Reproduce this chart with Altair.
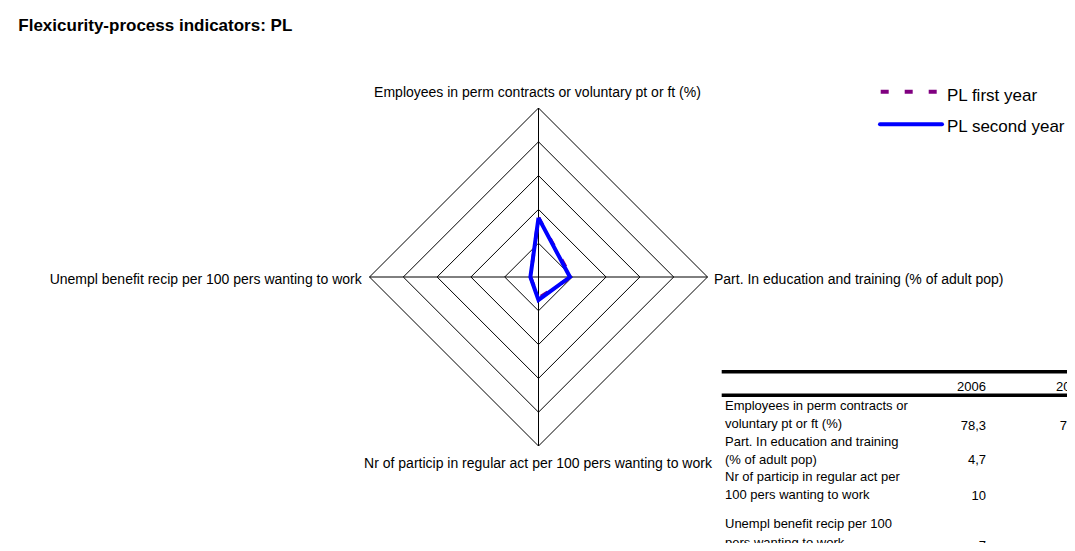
import altair as alt
import pandas as pd

# ---------------- data ----------------
title_text = "Flexicurity-process indicators: PL"
categories = [
    "Employees in perm contracts or voluntary pt or ft (%)",
    "Part. In education and training (% of adult pop)",
    "Nr of particip in regular act per 100 pers wanting to work",
    "Unempl benefit recip per 100 pers wanting to work",
]
series_names = ["PL first year", "PL second year"]
first_year = [1.76, 0.97, 0.62, 0.24]   # plotted (scaled) values, 5 = outer ring
second_year = [1.75, 0.93, 0.68, 0.24]
ring_levels = [1, 2, 3, 4, 5]

table_years = ["2006", "2007"]
table_rows = [
    ["Employees in perm contracts or", "voluntary pt or ft (%)"],
    ["Part. In education and training", "(% of adult pop)"],
    ["Nr of particip in regular act per", "100 pers wanting to work"],
    ["Unempl benefit recip per 100", "pers wanting to work"],
]
values_2006 = ["78,3", "4,7", "10", "7"]
values_2007 = ["78,9", "5,1", "11", "8"]

# ---------------- layout ----------------
W, H = 1059, 535
cx, cy, unit = 530.5, 269.0, 33.8
xs = alt.Scale(domain=[-cx / unit, (W - cx) / unit], nice=False, zero=False)
ys = alt.Scale(domain=[-(H - cy) / unit, cy / unit], nice=False, zero=False)
FONT = "Liberation Sans"

# radar data
radar_rows = []
for name, vals in zip(series_names, [first_year, second_year]):
    for k in range(len(categories) + 1):
        radar_rows.append({"series": name, "k": k, "value": vals[k % len(categories)]})
radar_df = pd.DataFrame(radar_rows)

ring_rows = []
for r in ring_levels:
    for k in range(len(categories) + 1):
        ring_rows.append({"ring": r, "k": k})
ring_df = pd.DataFrame(ring_rows)

spoke_df = pd.DataFrame({"k": list(range(len(categories))), "r": [max(ring_levels)] * len(categories)})

X = alt.X("x:Q", scale=xs, axis=None)
Y = alt.Y("y:Q", scale=ys, axis=None)

rings = (
    alt.Chart(ring_df)
    .transform_calculate(
        x="datum.ring * sin(datum.k * PI / 2)",
        y="datum.ring * cos(datum.k * PI / 2)",
    )
    .mark_line(color="black", strokeWidth=1, strokeJoin="miter")
    .encode(x=X, y=Y, detail="ring:N", order="k:Q")
)

spokes = (
    alt.Chart(spoke_df)
    .transform_calculate(
        x0="0", y0="0",
        x="datum.r * sin(datum.k * PI / 2)",
        y="datum.r * cos(datum.k * PI / 2)",
    )
    .mark_rule(color="black", strokeWidth=1)
    .encode(x=alt.X("x0:Q", scale=xs, axis=None), y=alt.Y("y0:Q", scale=ys, axis=None), x2="x:Q", y2="y:Q")
)

radar_base = alt.Chart(radar_df).transform_calculate(
    x="datum.value * sin(datum.k * PI / 2)",
    y="datum.value * cos(datum.k * PI / 2)",
)
first_line = (
    radar_base.transform_filter(alt.datum.series == series_names[0])
    .mark_line(color="#800080", strokeWidth=3.5, strokeDash=[8, 16])
    .encode(x=X, y=Y, order="k:Q")
)
second_line = (
    radar_base.transform_filter(alt.datum.series == series_names[1])
    .mark_line(color="#0000FF", strokeWidth=4, strokeJoin="miter")
    .encode(x=X, y=Y, order="k:Q")
)


def label(text, x, y, size=14, align="left", weight="normal"):
    return (
        alt.Chart(pd.DataFrame({"t": [text]}))
        .mark_text(font=FONT, fontSize=size, align=align, baseline="alphabetic",
                   fontWeight=weight, color="black")
        .encode(x=alt.value(x), y=alt.value(y), text="t:N")
    )


layers = [rings, spokes, first_line, second_line]

# title
layers.append(label(title_text, 10.3, 23, size=17, weight="bold"))

# axis category labels
layers.append(label(categories[0], 529.5, 89.3, align="center"))
layers.append(label(categories[1], 706, 276))
layers.append(label(categories[2], 530, 460.3, align="center"))
layers.append(label(categories[3], 353.7, 276, align="right"))

# legend
leg_df = pd.DataFrame({"a": [0]})
layers.append(
    alt.Chart(leg_df).mark_rule(color="#800080", strokeWidth=4, strokeDash=[8, 16])
    .encode(x=alt.value(872.7), x2=alt.value(935), y=alt.value(83.7))
)
layers.append(
    alt.Chart(leg_df).mark_rule(color="#0000FF", strokeWidth=4, strokeCap="round")
    .encode(x=alt.value(872), x2=alt.value(934), y=alt.value(116.3))
)
layers.append(label(series_names[0], 939, 93.3, size=17))
layers.append(label(series_names[1], 939, 124.3, size=17))

# table
layers.append(
    alt.Chart(leg_df).mark_rule(color="black", strokeWidth=3.5)
    .encode(x=alt.value(713.7), x2=alt.value(W + 20), y=alt.value(363.7))
)
layers.append(
    alt.Chart(leg_df).mark_rule(color="black", strokeWidth=3.5)
    .encode(x=alt.value(713.7), x2=alt.value(W + 20), y=alt.value(387.3))
)
layers.append(label(table_years[0], 978, 383, size=13, align="right"))
layers.append(label(table_years[1], 1077, 383, size=13, align="right"))

row_first_baselines = [402, 438, 472.7, 520.3]
row_value_baselines = [422, 456, 492, 542]
for rows, yb, v6, v7, yv in zip(table_rows, row_first_baselines, values_2006, values_2007, row_value_baselines):
    for j, line in enumerate(rows):
        layers.append(label(line, 717, yb + j * 18.3, size=13))
    layers.append(label(v6, 978, yv, size=13, align="right"))
    layers.append(label(v7, 1077, yv, size=13, align="right"))

chart = (
    alt.layer(*layers)
    .properties(width=W, height=H, autosize=alt.AutoSizeParams(type="none"), padding=0,
                background="white")
    .configure_view(stroke=None)
)

chart.save("out.html", embed_options={"renderer": "svg", "actions": False})
